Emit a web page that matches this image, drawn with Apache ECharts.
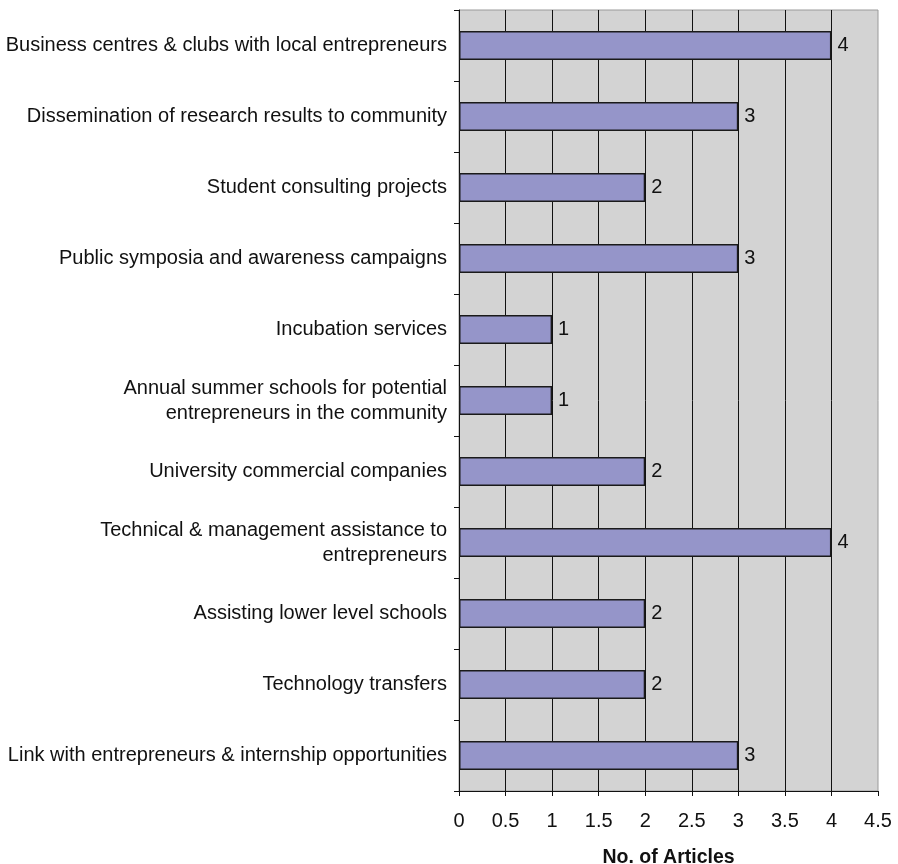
<!DOCTYPE html>
<html>
<head>
<meta charset="utf-8">
<style>
  html, body { margin: 0; padding: 0; background: #ffffff; }
  #chart { width: 898px; height: 864px; }
</style>
<script src="https://cdn.jsdelivr.net/npm/echarts@6/dist/echarts.min.js"></script>
</head>
<body>
<div id="chart"></div>
<script>
// Outreach activities and how many articles mention each one
const activities = [
  'Business centres & clubs with local entrepreneurs',
  'Dissemination of research results to community',
  'Student consulting projects',
  'Public symposia and awareness campaigns',
  'Incubation services',
  'Annual summer schools for potential\nentrepreneurs in the community',
  'University commercial companies',
  'Technical & management assistance to\nentrepreneurs',
  'Assisting lower level schools',
  'Technology transfers',
  'Link with entrepreneurs & internship opportunities'
];
const articleCounts = [4, 3, 2, 3, 1, 1, 2, 4, 2, 2, 3];
const xTicks = { min: 0, max: 4.5, step: 0.5 };
const xTitle = 'No. of Articles';

const FONT = '"Liberation Sans", Arial, sans-serif';

const chart = echarts.init(document.getElementById('chart'), null, { renderer: 'canvas' });
chart.setOption({
  backgroundColor: '#ffffff',
  animation: false,
  grid: {
    left: 459, right: 20, top: 10, bottom: 73,
    containLabel: false,
    outerBoundsMode: 'none',
    show: true,
    backgroundColor: '#d3d3d3',
    borderColor: '#9a9a9a',
    borderWidth: 1
  },
  xAxis: {
    type: 'value',
    min: xTicks.min,
    max: xTicks.max,
    interval: xTicks.step,
    name: xTitle,
    nameLocation: 'middle',
    nameGap: 57,
    nameTextStyle: { fontFamily: FONT, fontSize: 19.5, fontWeight: 'bold', color: '#111' },
    axisLine: { show: true, lineStyle: { color: '#111', width: 1 } },
    axisTick: { show: true, length: 5, lineStyle: { color: '#111' } },
    axisLabel: { fontFamily: FONT, fontSize: 20, color: '#111', margin: 20 },
    splitLine: { show: true, showMinLine: false, showMaxLine: false, lineStyle: { color: '#111', width: 1 } }
  },
  yAxis: {
    type: 'category',
    inverse: true,
    data: activities,
    axisLine: { show: true, lineStyle: { color: '#111', width: 1 } },
    axisTick: { show: true, length: 5, lineStyle: { color: '#111' } },
    axisLabel: { fontFamily: FONT, fontSize: 20, color: '#111', margin: 12, align: 'right', lineHeight: 25 },
    splitLine: { show: false }
  },
  series: [{
    type: 'bar',
    data: articleCounts,
    barWidth: '41%',
    itemStyle: { color: '#9595c9', borderColor: '#1a1a1a', borderWidth: 1.5 },
    label: {
      show: true,
      position: 'right',
      distance: 6,
      fontFamily: FONT,
      fontSize: 20,
      color: '#111'
    }
  }]
});
</script>
</body>
</html>
